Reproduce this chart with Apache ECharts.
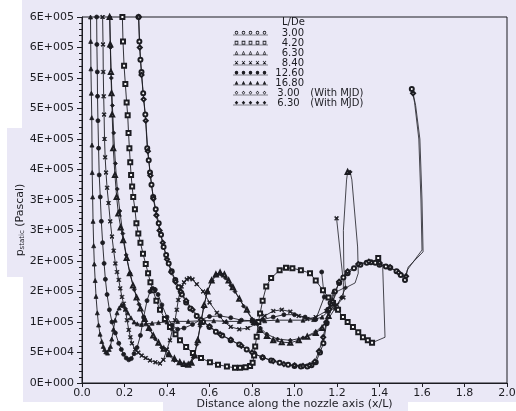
<!DOCTYPE html>
<html>
<head>
<meta charset="utf-8">
<script src="https://cdn.jsdelivr.net/npm/echarts@6/dist/echarts.min.js"></script>
<style>
html, body { margin: 0; padding: 0; background: #ffffff; }
#chart { width: 516px; height: 411px; }
</style>
</head>
<body>
<div id="chart"></div>
<script>
// pressures in kPa, converted to Pa only in the axis labels
const legendNames = ['3.00', '4.20', '6.30', '8.40', '12.60', '16.80', '3.00  (With MJD)', '6.30  (With MJD)'];

// L/De = 3.00
const x300 = [0.266, 0.270, 0.275, 0.280, 0.288, 0.298, 0.307, 0.314, 0.320, 0.327, 0.335, 0.347, 0.361, 0.372, 0.384, 0.396, 0.408, 0.422, 0.439, 0.455, 0.470, 0.490, 0.510, 0.540, 0.570, 0.600, 0.630, 0.660, 0.700, 0.740, 0.775, 0.810, 0.850, 0.890, 0.930, 0.970, 1.000, 1.030, 1.060, 1.080, 1.100, 1.120, 1.136, 1.151, 1.159, 1.170, 1.190, 1.210, 1.230, 1.250, 1.280, 1.310, 1.340, 1.360, 1.380, 1.400, 1.430, 1.450, 1.480, 1.500, 1.520];
const y300 = [600, 560, 530, 510, 475, 440, 385, 365, 345, 325, 305, 285, 262, 243, 223, 210, 196, 183, 169, 157, 145, 132, 122, 110, 100, 92, 84, 78, 70, 63, 55, 48, 42, 37, 33, 30, 28, 27, 27, 29, 34, 50, 65, 98, 120, 131, 150, 164, 173, 180, 188, 194, 197, 198, 197, 194, 191, 189, 183, 177, 169];
const x300Tail = [1.530, 1.600, 1.595, 1.585, 1.565, 1.552];
const y300Tail = [185, 218, 300, 400, 460, 482];

// L/De = 4.20
const x420 = [0.190, 0.193, 0.198, 0.204, 0.210, 0.215, 0.219, 0.223, 0.227, 0.231, 0.236, 0.241, 0.249, 0.256, 0.265, 0.275, 0.287, 0.300, 0.311, 0.322, 0.334, 0.350, 0.367, 0.390, 0.414, 0.440, 0.461, 0.490, 0.522, 0.560, 0.602, 0.640, 0.682, 0.720, 0.744, 0.770, 0.791, 0.803, 0.810, 0.815, 0.822, 0.830, 0.838, 0.850, 0.867, 0.890, 0.930, 0.960, 0.990, 1.030, 1.073, 1.100, 1.134, 1.160, 1.181, 1.205, 1.228, 1.250, 1.275, 1.300, 1.322, 1.345, 1.365];
const y420 = [600, 560, 520, 490, 460, 439, 410, 385, 362, 341, 322, 305, 285, 262, 245, 230, 212, 195, 180, 165, 152, 135, 120, 105, 92, 80, 70, 59, 49, 41, 34, 30, 27, 25, 25, 26, 28, 33, 45, 60, 76, 100, 114, 135, 158, 172, 185, 189, 188, 185, 180, 168, 152, 140, 131, 120, 108, 100, 92, 83, 75, 70, 66];
const x420Tail = [1.426, 1.415, 1.394];
const y420Tail = [75, 190, 205];

// L/De = 6.30
const x630 = [0.130, 0.133, 0.136, 0.139, 0.142, 0.147, 0.155, 0.163, 0.171, 0.182, 0.194, 0.210, 0.225, 0.240, 0.257, 0.275, 0.295, 0.315, 0.335, 0.360, 0.385, 0.410, 0.435, 0.460, 0.480, 0.500, 0.515, 0.530, 0.545, 0.560, 0.575, 0.590, 0.610, 0.630, 0.650, 0.670, 0.690, 0.710, 0.740, 0.776, 0.810, 0.838, 0.870, 0.900, 0.940, 0.980, 1.020, 1.060, 1.100, 1.130, 1.160, 1.175];
const y630 = [600, 555, 510, 475, 440, 385, 341, 305, 278, 255, 234, 205, 180, 160, 140, 122, 105, 90, 78, 66, 56, 47, 40, 34, 31, 30, 33, 45, 70, 100, 128, 150, 168, 178, 181, 178, 168, 157, 138, 120, 100, 87, 77, 70, 67, 66, 70, 76, 82, 90, 110, 130];
const x630Tail = [1.200, 1.240, 1.232, 1.230, 1.245, 1.250];
const y630Tail = [150, 157, 190, 250, 333, 346];

// L/De = 8.40
const x840 = [0.097, 0.099, 0.100, 0.102, 0.104, 0.106, 0.109, 0.113, 0.118, 0.125, 0.133, 0.141, 0.149, 0.157, 0.165, 0.173, 0.180, 0.188, 0.196, 0.204, 0.212, 0.220, 0.228, 0.235, 0.250, 0.265, 0.281, 0.300, 0.320, 0.345, 0.367, 0.383, 0.400, 0.414, 0.426, 0.438, 0.446, 0.453, 0.461, 0.469, 0.480, 0.493, 0.505, 0.520, 0.540, 0.570, 0.600, 0.635, 0.670, 0.700, 0.740, 0.780, 0.820, 0.860, 0.900, 0.940, 0.980, 1.020, 1.060, 1.100, 1.150, 1.200, 1.230];
const y840 = [600, 555, 510, 470, 440, 400, 370, 345, 320, 295, 265, 240, 217, 196, 182, 169, 155, 141, 130, 120, 103, 87, 75, 65, 55, 50, 45, 41, 37, 34, 32, 38, 55, 70, 88, 103, 120, 136, 150, 158, 165, 170, 172, 170, 162, 150, 132, 115, 100, 92, 88, 90, 97, 110, 118, 120, 117, 110, 105, 108, 118, 128, 140];
const x840Tail = [1.230, 1.198];
const y840Tail = [165, 270];

// L/De = 12.60
const x1260 = [0.069, 0.070, 0.072, 0.073, 0.075, 0.078, 0.081, 0.086, 0.091, 0.097, 0.104, 0.110, 0.118, 0.129, 0.141, 0.157, 0.173, 0.185, 0.196, 0.208, 0.220, 0.232, 0.245, 0.259, 0.275, 0.290, 0.306, 0.320, 0.333, 0.345, 0.358, 0.376, 0.400, 0.424, 0.450, 0.480, 0.520, 0.560, 0.600, 0.650, 0.700, 0.750, 0.800, 0.850, 0.900, 0.950, 1.000, 1.050, 1.100, 1.140];
const y1260 = [600, 555, 510, 470, 430, 385, 341, 305, 265, 230, 196, 170, 145, 120, 100, 82, 65, 55, 47, 41, 38, 40, 48, 58, 78, 108, 135, 150, 155, 153, 145, 128, 108, 95, 88, 90, 96, 104, 109, 110, 107, 103, 102, 104, 108, 112, 112, 108, 104, 141];
const x1260Tail = [1.128];
const y1260Tail = [182];

// L/De = 16.80
const x1680 = [0.040, 0.041, 0.042, 0.044, 0.046, 0.047, 0.048, 0.050, 0.052, 0.055, 0.058, 0.062, 0.066, 0.072, 0.078, 0.085, 0.093, 0.100, 0.106, 0.112, 0.120, 0.128, 0.134, 0.140, 0.148, 0.156, 0.165, 0.175, 0.185, 0.195, 0.205, 0.215, 0.230, 0.245, 0.260, 0.280, 0.300, 0.330, 0.360, 0.400, 0.450, 0.500, 0.560, 0.620, 0.680, 0.740, 0.800, 0.860, 0.920, 0.980, 1.040, 1.090, 1.130, 1.160];
const y1680 = [600, 560, 515, 475, 435, 390, 345, 305, 265, 225, 195, 168, 142, 115, 95, 80, 68, 60, 55, 51, 49, 55, 60, 72, 88, 103, 115, 123, 128, 127, 122, 115, 107, 100, 97, 96, 97, 98, 99, 100, 101, 101, 102, 102, 101, 101, 102, 102, 103, 103, 103, 104, 108, 118];
const x1680Tail = [1.183];
const y1680Tail = [150];

// L/De = 3.00 with MJD
const x300m = [0.267, 0.272, 0.280, 0.290, 0.300, 0.310, 0.322, 0.336, 0.350, 0.365, 0.380, 0.400, 0.420, 0.440, 0.465, 0.490, 0.520, 0.560, 0.600, 0.650, 0.700, 0.750, 0.800, 0.850, 0.900, 0.950, 1.000, 1.040, 1.070, 1.095, 1.115, 1.135, 1.150, 1.165, 1.180, 1.210, 1.250, 1.300, 1.350, 1.400, 1.450, 1.490, 1.525];
const y300m = [600, 550, 505, 465, 430, 380, 340, 302, 275, 250, 230, 203, 182, 166, 150, 135, 120, 104, 93, 80, 71, 61, 50, 42, 36, 31, 29, 28, 29, 35, 52, 75, 100, 121, 134, 166, 183, 195, 199, 197, 190, 181, 175];
const x300mTail = [1.535, 1.605, 1.600, 1.590, 1.570, 1.558];
const y300mTail = [190, 215, 300, 400, 455, 475];

// L/De = 6.30 with MJD
const x630m = [0.131, 0.134, 0.138, 0.143, 0.149, 0.157, 0.166, 0.178, 0.192, 0.208, 0.226, 0.246, 0.268, 0.292, 0.318, 0.345, 0.375, 0.405, 0.435, 0.465, 0.490, 0.508, 0.524, 0.540, 0.556, 0.572, 0.590, 0.612, 0.635, 0.655, 0.675, 0.700, 0.720, 0.760, 0.800, 0.840, 0.870, 0.920, 0.980, 1.040, 1.100, 1.150, 1.190, 1.220, 1.240];
const y630m = [600, 550, 500, 455, 410, 360, 318, 282, 245, 210, 180, 153, 129, 106, 88, 72, 58, 46, 37, 32, 30, 32, 42, 63, 93, 124, 150, 168, 177, 178, 172, 160, 150, 126, 105, 90, 80, 72, 70, 74, 84, 100, 122, 140, 156];
const x630mTail = [1.285, 1.300, 1.297, 1.270, 1.262];
const y630mTail = [164, 180, 223, 333, 346];

const xTicks = { min: 0, max: 2, interval: 0.2 };
const yTicks = { min: 0, max: 600, interval: 50 };

const ink = '#1c1c22';

function pairs(xs, ys) {
    return xs.map(function (x, i) { return [x, ys[i]]; });
}

// a line with five small marks, used as legend icon
function iconPath(kind) {
    let p = 'M0 8.6 H70 V9.6 H0 Z ';
    for (let i = 0; i < 5; i++) {
        let cx = 7 + i * 14, cy = 4.5, r = 3.6, q = 2;
        if (kind === 'circle' || kind === 'ecircle') {
            p += 'M' + (cx - r) + ' ' + cy + ' a' + r + ' ' + r + ' 0 1 0 ' + (2 * r) + ' 0 a' + r + ' ' + r + ' 0 1 0 ' + (-2 * r) + ' 0 Z ';
            if (kind === 'ecircle') {
                p += 'M' + (cx - q) + ' ' + cy + ' a' + q + ' ' + q + ' 0 1 1 ' + (2 * q) + ' 0 a' + q + ' ' + q + ' 0 1 1 ' + (-2 * q) + ' 0 Z ';
            }
        } else if (kind === 'erect') {
            p += 'M' + (cx - r) + ' ' + (cy - r) + ' h' + (2 * r) + ' v' + (2 * r) + ' h' + (-2 * r) + ' Z ';
            p += 'M' + (cx - q) + ' ' + (cy - q) + ' v' + (2 * q) + ' h' + (2 * q) + ' v' + (-2 * q) + ' Z ';
        } else if (kind === 'triangle' || kind === 'etriangle') {
            p += 'M' + cx + ' ' + (cy - r) + ' L' + (cx + r) + ' ' + (cy + r) + ' L' + (cx - r) + ' ' + (cy + r) + ' Z ';
            if (kind === 'etriangle') {
                p += 'M' + cx + ' ' + (cy - q + 1) + ' L' + (cx - q) + ' ' + (cy + q) + ' L' + (cx + q) + ' ' + (cy + q) + ' Z ';
            }
        } else if (kind === 'cross') {
            p += 'M' + (cx - r) + ' ' + (cy - r + 1) + ' L' + (cx - r + 1) + ' ' + (cy - r) + ' L' + (cx + r) + ' ' + (cy + r - 1) + ' L' + (cx + r - 1) + ' ' + (cy + r) + ' Z ';
            p += 'M' + (cx + r - 1) + ' ' + (cy - r) + ' L' + (cx + r) + ' ' + (cy - r + 1) + ' L' + (cx - r + 1) + ' ' + (cy + r) + ' L' + (cx - r) + ' ' + (cy + r - 1) + ' Z ';
        } else if (kind === 'diamond' || kind === 'ediamond') {
            p += 'M' + cx + ' ' + (cy - r) + ' L' + (cx + r) + ' ' + cy + ' L' + cx + ' ' + (cy + r) + ' L' + (cx - r) + ' ' + cy + ' Z ';
            if (kind === 'ediamond') {
                p += 'M' + cx + ' ' + (cy - q) + ' L' + (cx - q) + ' ' + cy + ' L' + cx + ' ' + (cy + q) + ' L' + (cx + q) + ' ' + cy + ' Z ';
            }
        }
    }
    return 'path://' + p;
}

const crossSymbol = 'path://M0 1.5 L1.5 0 L10 8.5 L8.5 10 Z M8.5 0 L10 1.5 L1.5 10 L0 8.5 Z';

const curves = [
    { name: legendNames[0], x: x300, y: y300, tx: x300Tail, ty: y300Tail, symbol: 'emptyCircle', icon: 'ecircle' },
    { name: legendNames[1], x: x420, y: y420, tx: x420Tail, ty: y420Tail, symbol: 'emptyRect', icon: 'erect' },
    { name: legendNames[2], x: x630, y: y630, tx: x630Tail, ty: y630Tail, symbol: 'emptyTriangle', icon: 'etriangle' },
    { name: legendNames[3], x: x840, y: y840, tx: x840Tail, ty: y840Tail, symbol: crossSymbol, icon: 'cross' },
    { name: legendNames[4], x: x1260, y: y1260, tx: x1260Tail, ty: y1260Tail, symbol: 'circle', icon: 'circle' },
    { name: legendNames[5], x: x1680, y: y1680, tx: x1680Tail, ty: y1680Tail, symbol: 'triangle', icon: 'triangle' },
    { name: legendNames[6], x: x300m, y: y300m, tx: x300mTail, ty: y300mTail, symbol: 'emptyDiamond', icon: 'ediamond' },
    { name: legendNames[7], x: x630m, y: y630m, tx: x630mTail, ty: y630mTail, symbol: 'diamond', icon: 'diamond' }
];

function makeSeries() {
    let out = [];
    for (let c of curves) {
        out.push({
            type: 'line',
            name: c.name,
            data: pairs(c.x, c.y),
            symbol: c.symbol,
            symbolSize: 4,
            lineStyle: { color: ink, width: 0.9 },
            itemStyle: { color: ink, borderColor: ink, borderWidth: 0.8 },
            emphasis: { disabled: true },
            z: 3
        });
        // thin end spike: plain line, mark only at its last point
        let last = c.x.length - 1;
        let tail = [{ value: [c.x[last], c.y[last]], symbol: 'none' }];
        c.tx.forEach(function (x, i) {
            tail.push({ value: [x, c.ty[i]], symbol: i === c.tx.length - 1 ? c.symbol : 'none' });
        });
        out.push({
            type: 'line',
            name: c.name,
            data: tail,
            symbolSize: 4,
            lineStyle: { color: ink, width: 0.8 },
            itemStyle: { color: ink, borderColor: ink, borderWidth: 0.8 },
            emphasis: { disabled: true },
            z: 3
        });
    }
    return out;
}

function sciLabel(v) {
    if (v === 0) return '0E+000';
    let pa = v * 1000;
    let e = Math.floor(Math.log10(pa) + 1e-9);
    let m = Math.round(pa / Math.pow(10, e));
    return m + 'E+' + String(e).padStart(3, '0');
}

const chart = echarts.init(document.getElementById('chart'), null, { renderer: 'canvas' });
chart.setOption({
    animation: false,
    backgroundColor: '#eae8f6',
    textStyle: { fontFamily: 'DejaVu Sans' },
    grid: {
        left: 82, right: 9, top: 17, bottom: 28,
        outerBoundsMode: 'none',
        containLabel: false,
        show: true, borderColor: ink, borderWidth: 1, backgroundColor: 'transparent'
    },
    legend: {
        orient: 'vertical',
        left: 228, top: 23,
        itemWidth: 35, itemHeight: 5, itemGap: 0,
        selectedMode: false,
        data: curves.map(function (c) { return { name: c.name, icon: iconPath(c.icon), itemStyle: { color: ink, borderWidth: 0 } }; }),
        formatter: function (name) {
            let num = name.split(' ')[0];
            let rest = name.slice(num.length);
            return '{n|' + num + '}' + (rest ? '{r|' + rest + '}' : '');
        },
        textStyle: {
            color: ink, fontSize: 10, lineHeight: 9,
            rich: {
                n: { width: 31, align: 'right', fontSize: 10, lineHeight: 9, color: ink },
                r: { fontSize: 10, lineHeight: 9, color: ink }
            }
        }
    },
    xAxis: {
        type: 'value',
        min: xTicks.min, max: xTicks.max, interval: xTicks.interval,
        name: 'Distance along the nozzle axis (x/L)',
        nameLocation: 'middle', nameGap: 16,
        nameMoveOverlap: false,
        nameTextStyle: { color: ink, fontSize: 11, verticalAlign: 'top', lineHeight: 11 },
        axisLine: { lineStyle: { color: ink, width: 1 } },
        axisTick: { show: true, length: 4, lineStyle: { color: ink } },
        axisLabel: { color: ink, fontSize: 11, margin: 5, formatter: function (v) { return v.toFixed(1); } },
        splitLine: { show: false }
    },
    yAxis: {
        type: 'value',
        min: yTicks.min, max: yTicks.max, interval: yTicks.interval,
        axisLine: { show: true, lineStyle: { color: ink, width: 1 } },
        axisTick: { show: true, length: 5, lineStyle: { color: ink } },
        minorTick: { show: true, splitNumber: 5, length: 3, lineStyle: { color: ink } },
        axisLabel: { color: ink, fontSize: 11, margin: 8, formatter: sciLabel },
        splitLine: { show: false }
    },
    graphic: [
        { type: 'rect', z: -10, shape: { x: 0, y: 0, width: 22, height: 128 }, style: { fill: '#ffffff' } },
        { type: 'rect', z: -10, shape: { x: 0, y: 128, width: 7, height: 150 }, style: { fill: '#ffffff' } },
        { type: 'rect', z: -10, shape: { x: 0, y: 277, width: 23, height: 134 }, style: { fill: '#ffffff' } },
        { type: 'rect', z: -10, shape: { x: 0, y: 402, width: 163, height: 9 }, style: { fill: '#ffffff' } },
        { type: 'rect', z: -10, shape: { x: 408, y: 402, width: 108, height: 9 }, style: { fill: '#ffffff' } },
        {
            type: 'text', left: 282, top: 17,
            style: { text: 'L/De', fill: ink, fontSize: 10, fontFamily: 'DejaVu Sans' }
        },
        {
            type: 'text', x: 20, y: 220, rotation: Math.PI / 2,
            style: {
                text: '{p|p}{s|static}{p| (Pascal)}',
                align: 'center', verticalAlign: 'middle',
                rich: {
                    p: { fontSize: 11, fill: ink, fontFamily: 'DejaVu Sans' },
                    s: { fontSize: 7, fill: ink, fontFamily: 'DejaVu Sans', padding: [5, 0, 0, 0] }
                }
            }
        }
    ],
    series: makeSeries()
});
</script>
</body>
</html>
